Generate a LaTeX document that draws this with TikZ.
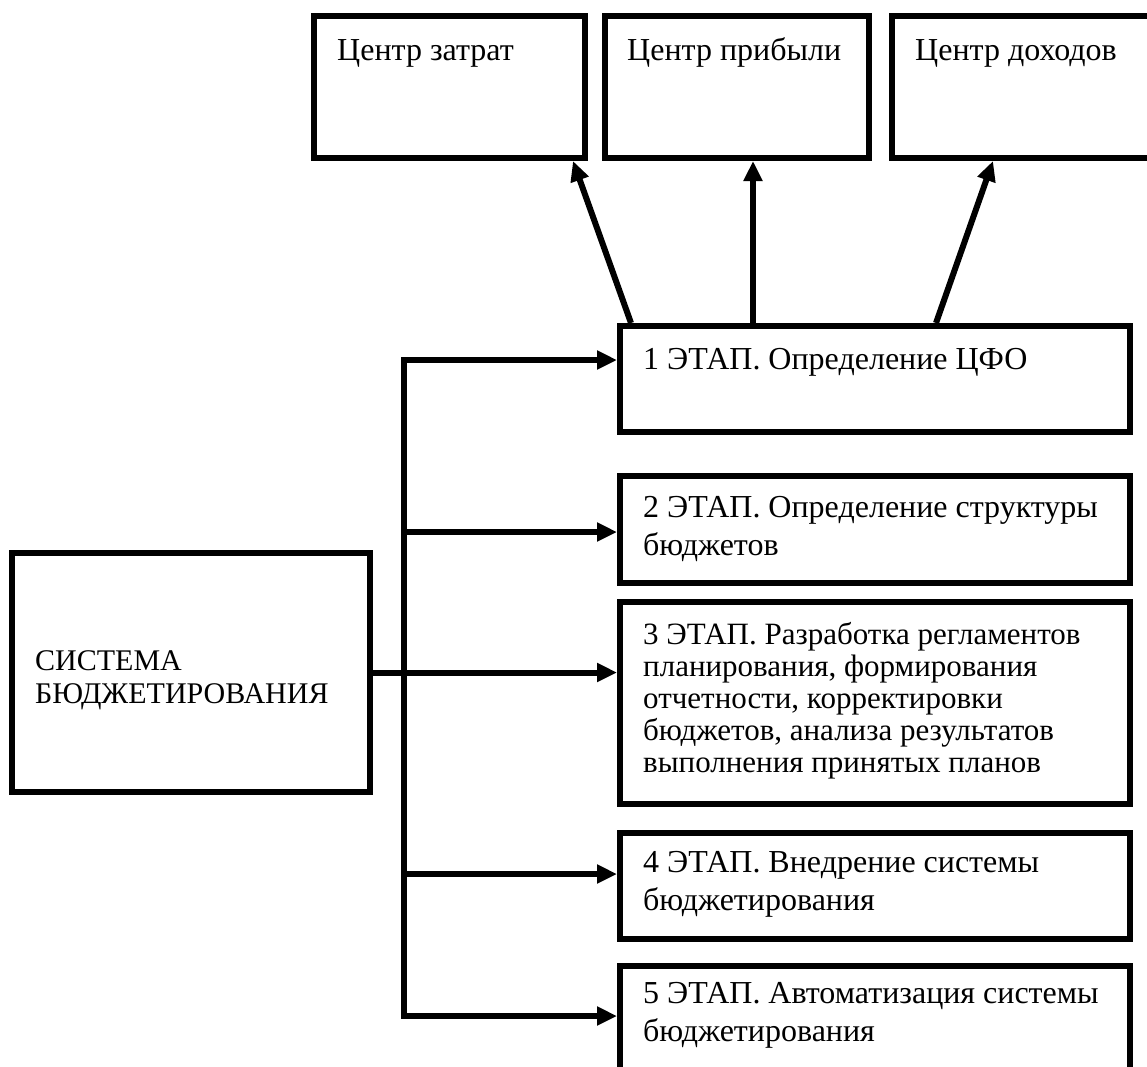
\documentclass[tikz,border=0pt]{standalone}
\usepackage{fontspec}
\setmainfont{Liberation Serif}
\usetikzlibrary{arrows.meta,calc}
\newcommand\mlines[1]{\begin{tabular}[t]{@{}l@{}}#1\end{tabular}}
\begin{document}
\begin{tikzpicture}[x=1pt,y=-1pt,
  box/.style={draw=black,line width=6pt,fill=white,rectangle,inner sep=0pt,anchor=north west},
  lbl/.style={inner sep=0pt,anchor=base west,font=\fontsize{32}{38}\selectfont},
  lblsmall/.style={inner sep=0pt,anchor=base west,font=\fontsize{31}{32}\selectfont},
  lblsys/.style={inner sep=0pt,anchor=base west,font=\fontsize{30}{33}\selectfont},
  conn/.style={line width=6pt,draw=black},
  arr/.style={conn,-{Triangle[length=20pt,width=18pt]}}]
\useasboundingbox (0,0) rectangle (1147,1066);
\fill[white] (0,0) rectangle (1147,1066);
% top boxes
\node[box,minimum width=271pt,minimum height=142pt] (A) at (311,13) {};
\node[box,minimum width=264pt,minimum height=142pt] (B) at (602,13) {};
\node[box,minimum width=275pt,minimum height=142pt] (C) at (889,13) {};
% stage boxes
\node[box,minimum width=510pt,minimum height=106pt] (S1) at (617,323) {};
\node[box,minimum width=510pt,minimum height=107pt] (S2) at (617,473) {};
\node[box,minimum width=510pt,minimum height=202pt] (S3) at (617,599) {};
\node[box,minimum width=510pt,minimum height=106pt] (S4) at (617,830) {};
\node[box,minimum width=510pt,minimum height=121pt] (S5) at (617,963) {};
% system box
\node[box,minimum width=358pt,minimum height=239pt] (SYS) at (9,550) {};
% texts
\node[lbl] (tA) at (337,60) {Центр затрат};
\node[lbl] (tB) at (627,60) {Центр прибыли};
\node[lbl] (tC) at (915,60) {Центр доходов};
\node[lbl] (t1) at (643,369) {1 ЭТАП. Определение ЦФО};
\node[lbl] (t2) at (643,517) {\mlines{2 ЭТАП. Определение структуры\\бюджетов}};
\node[lblsmall] (t3) at (643,644) {\mlines{3 ЭТАП. Разработка регламентов\\планирования, формирования\\отчетности, корректировки\\бюджетов, анализа результатов\\выполнения принятых планов}};
\node[lbl] (t4) at (643,872) {\mlines{4 ЭТАП. Внедрение системы\\бюджетирования}};
\node[lbl] (t5) at (643,1003) {\mlines{5 ЭТАП. Автоматизация системы\\бюджетирования}};
\node[lblsys] (tS) at (35,670) {\mlines{СИСТЕМА\\БЮДЖЕТИРОВАНИЯ}};
% up arrows
\draw[arr] ([xshift=14pt]S1.north west) -- ([xshift=-15pt]A.south east);
\draw[arr] ([xshift=136pt]S1.north west) -- ([xshift=151pt]B.south west);
\draw[arr] ([xshift=319pt]S1.north west) -- ([xshift=104pt]C.south west);
% trunk
\coordinate (vtop) at (403.5,360);
\coordinate (vbot) at (403.5,1016);
\coordinate (j2) at (403.5,532);
\coordinate (j4) at (403.5,874);
\draw[conn,line cap=rect] (vtop) -- (vbot);
\draw[arr] (vtop) -- (vtop -| S1.west);
\draw[arr] (j2) -- (j2 -| S2.west);
\draw[arr] (SYS.east) -- (SYS.east -| S3.west);
\draw[arr] (j4) -- (j4 -| S4.west);
\draw[arr] (vbot) -- (vbot -| S5.west);
\end{tikzpicture}
\end{document}
